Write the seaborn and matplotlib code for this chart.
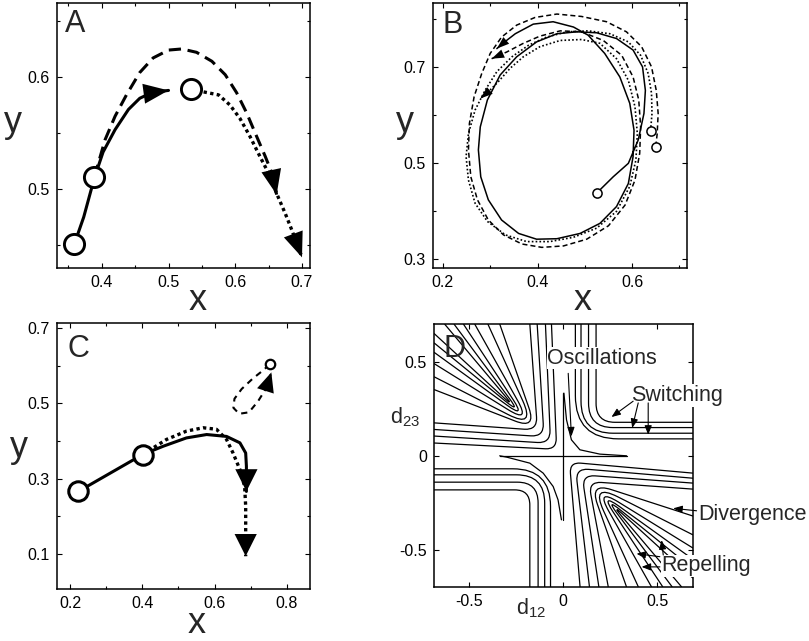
import numpy as np
import matplotlib
matplotlib.use("Agg")
import matplotlib.pyplot as plt
from matplotlib.path import Path
from matplotlib.patches import PathPatch
import seaborn as sns

# ---------------- Panel A : three trajectory pieces ----------------
a_circle_x = [0.359, 0.389, 0.533]
a_circle_y = [0.451, 0.511, 0.589]
a_solid_x = [0.359, 0.373, 0.389, 0.402, 0.420, 0.440, 0.457, 0.475, 0.500]
a_solid_y = [0.451, 0.475, 0.510, 0.533, 0.553, 0.571, 0.581, 0.586, 0.588]
a_dash_x = [0.389, 0.405, 0.420, 0.437, 0.457, 0.477, 0.500, 0.520, 0.542,
            0.565, 0.585, 0.602, 0.617, 0.632, 0.645, 0.655, 0.662]
a_dash_y = [0.511, 0.544, 0.565, 0.584, 0.604, 0.617, 0.624, 0.625, 0.622,
            0.614, 0.602, 0.586, 0.568, 0.547, 0.529, 0.514, 0.495]
a_dot_x = [0.533, 0.575, 0.592, 0.607, 0.622, 0.637, 0.650, 0.662, 0.675, 0.685, 0.700]
a_dot_y = [0.589, 0.584, 0.575, 0.563, 0.547, 0.529, 0.514, 0.496, 0.478, 0.463, 0.439]

# ---------------- Panel B : three loops ----------------
b_circle_x = [0.525, 0.639, 0.650]
b_circle_y = [0.437, 0.567, 0.534]
b_solid_x = [0.525, 0.560, 0.592, 0.613, 0.625, 0.628, 0.622, 0.602, 0.567, 0.525,
             0.483, 0.441, 0.398, 0.356, 0.321, 0.294, 0.279, 0.275, 0.280, 0.296,
             0.324, 0.360, 0.398, 0.441, 0.490, 0.532, 0.567, 0.592, 0.602, 0.604,
             0.595, 0.574, 0.542, 0.507, 0.476, 0.433, 0.391, 0.353, 0.328, 0.314]
b_solid_y = [0.437, 0.471, 0.499, 0.548, 0.603, 0.651, 0.700, 0.735, 0.759, 0.771,
             0.773, 0.769, 0.752, 0.721, 0.683, 0.631, 0.575, 0.527, 0.471, 0.423,
             0.381, 0.353, 0.341, 0.342, 0.353, 0.374, 0.409, 0.457, 0.513, 0.568,
             0.624, 0.679, 0.728, 0.766, 0.783, 0.794, 0.789, 0.769, 0.750, 0.738]
b_dash_x = [0.650, 0.653, 0.655, 0.651, 0.641, 0.620, 0.588, 0.546, 0.493, 0.441,
            0.395, 0.356, 0.324, 0.300, 0.282, 0.266, 0.256, 0.254, 0.259, 0.273,
            0.296, 0.328, 0.367, 0.409, 0.455, 0.504, 0.550, 0.585, 0.606, 0.616,
            0.618, 0.614, 0.602, 0.578, 0.539, 0.493, 0.448, 0.405, 0.370, 0.335, 0.303]
b_dash_y = [0.534, 0.561, 0.603, 0.651, 0.700, 0.742, 0.773, 0.794, 0.805, 0.810,
            0.803, 0.787, 0.762, 0.728, 0.686, 0.638, 0.582, 0.527, 0.471, 0.423,
            0.381, 0.350, 0.331, 0.324, 0.327, 0.341, 0.369, 0.412, 0.464, 0.520,
            0.575, 0.631, 0.679, 0.724, 0.755, 0.773, 0.775, 0.764, 0.749, 0.731, 0.717]
b_dot_x = [0.639, 0.642, 0.641, 0.634, 0.618, 0.592, 0.553, 0.507, 0.462, 0.419,
           0.381, 0.346, 0.314, 0.289, 0.268, 0.254, 0.249, 0.254, 0.268, 0.294,
           0.332, 0.377, 0.426, 0.476, 0.525, 0.567, 0.595, 0.608, 0.611, 0.606,
           0.592, 0.567, 0.532, 0.493, 0.448, 0.405, 0.370, 0.342, 0.317, 0.296, 0.279]
b_dot_y = [0.567, 0.603, 0.645, 0.686, 0.724, 0.752, 0.769, 0.775, 0.773, 0.762,
           0.745, 0.721, 0.690, 0.651, 0.610, 0.561, 0.513, 0.464, 0.416, 0.378,
           0.350, 0.336, 0.336, 0.345, 0.364, 0.399, 0.451, 0.506, 0.561, 0.617,
           0.672, 0.717, 0.749, 0.757, 0.755, 0.742, 0.721, 0.697, 0.669, 0.648, 0.634]

# ---------------- Panel C ----------------
c_circle_x = [0.223, 0.401]
c_circle_y = [0.266, 0.364]
c_small_x = [0.752]
c_small_y = [0.603]
c_solid_x = [0.223, 0.401, 0.458, 0.522, 0.578, 0.633, 0.670, 0.686, 0.688, 0.688]
c_solid_y = [0.266, 0.364, 0.386, 0.408, 0.417, 0.412, 0.395, 0.368, 0.333, 0.266]
c_dot_x = [0.401, 0.467, 0.522, 0.568, 0.605, 0.633, 0.651, 0.670, 0.683, 0.686, 0.686, 0.686]
c_dot_y = [0.364, 0.404, 0.426, 0.435, 0.431, 0.404, 0.368, 0.324, 0.280, 0.227, 0.165, 0.094]
c_dash_x = [0.752, 0.735, 0.705, 0.675, 0.655, 0.652, 0.668, 0.695, 0.720, 0.743, 0.757]
c_dash_y = [0.603, 0.588, 0.565, 0.538, 0.512, 0.488, 0.472, 0.476, 0.505, 0.540, 0.582]

# ---------------- Panel D : curve families in the (d12, d23) plane ----------------
d_xlim = (-0.686, 0.69)
d_ylim = (-0.697, 0.70)
# upper-right "switching" corners
d_ur_top_x = [0.065, 0.095, 0.135, 0.175]
d_ur_right_y = [0.09, 0.12, 0.15, 0.178]
d_ur_bend = [0.23, 0.17, 0.13, 0.10]
# lower-left corners
d_ll_bottom_x = [-0.067, -0.098, -0.133, -0.177]
d_ll_left_y = [-0.069, -0.101, -0.14, -0.181]
d_ll_bend = [0.20, 0.15, 0.11, 0.08]
# upper-left nested bends / hairpins: tip, exit on top edge, exit on left edge
d_ul_tip_x = [-0.05, -0.085, -0.12, -0.155, -0.18, -0.20, -0.22, -0.24, -0.26, -0.28]
d_ul_tip_y = [0.05, 0.085, 0.12, 0.155, 0.18, 0.20, 0.22, 0.24, 0.26, 0.28]
d_ul_top_x = [-0.062, -0.094, -0.138, -0.177, -0.337, -0.40, -0.47, -0.53, -0.58, -0.63]
d_ul_left_y = [0.068, 0.105, 0.14, 0.175, 0.352, 0.42, 0.49, 0.55, 0.60, 0.65]
d_ul_bend = [0.06, 0.07, 0.07, 0.07, 0.12, 0.16, 0.14, 0.12, 0.10, 0.08]
# lower-right nested bends / hairpins: tip, exit on right edge, exit on bottom edge
d_lr_tip_x = [0.05, 0.085, 0.12, 0.155, 0.18, 0.20, 0.22, 0.24, 0.26, 0.28]
d_lr_tip_y = [-0.05, -0.085, -0.12, -0.155, -0.18, -0.20, -0.22, -0.24, -0.26, -0.28]
d_lr_right_y = [-0.092, -0.119, -0.145, -0.177, -0.32, -0.42, -0.49, -0.55, -0.60, -0.65]
d_lr_bottom_x = [0.09, 0.14, 0.19, 0.24, 0.337, 0.40, 0.47, 0.53, 0.58, 0.63]
d_lr_bend = [0.06, 0.07, 0.07, 0.07, 0.12, 0.16, 0.14, 0.12, 0.10, 0.08]
# central cross and its two cusped branches
d_hline_x = [-0.337, 0.337]
d_hline_y = [0.0, 0.0]
d_vline_x = [0.0, 0.0]
d_vline_y = [-0.342, 0.335]
d_cusp_ur_x = [0.004, 0.018, 0.044, 0.089, 0.195, 0.337]
d_cusp_ur_y = [0.333, 0.191, 0.085, 0.032, 0.009, 0.0]
d_cusp_ll_x = [-0.337, -0.30, -0.177, -0.106, -0.053, -0.027, -0.009]
d_cusp_ll_y = [0.0, -0.007, -0.039, -0.092, -0.163, -0.234, -0.34]
# annotations
d_labels = ["Oscillations", "Switching", "Divergence", "Repelling"]
d_label_x = [0.208, 0.607, 0.716, 0.523]
d_label_y = [0.519, 0.319, -0.314, -0.585]
d_label_ha = ["center", "center", "left", "left"]
d_arrow_from = [(0.027, 0.438), (0.372, 0.29), (0.399, 0.281), (0.452, 0.281),
                (0.709, -0.292), (0.532, -0.527), (0.514, -0.536), (0.514, -0.59)]
d_arrow_to = [(0.044, 0.103), (0.257, 0.206), (0.367, 0.148), (0.452, 0.112),
              (0.585, -0.279), (0.523, -0.448), (0.39, -0.52), (0.417, -0.59)]

# ---------------- style ----------------
sns.set_theme(style="ticks")
plt.rcParams["font.family"] = ["Liberation Sans", "DejaVu Sans"]
plt.rcParams["axes.unicode_minus"] = False
plt.rcParams["mathtext.fontset"] = "custom"
plt.rcParams["mathtext.rm"] = "Liberation Sans"
plt.rcParams["mathtext.it"] = "Liberation Sans"
plt.rcParams["axes.edgecolor"] = "black"
plt.rcParams["axes.linewidth"] = 1.1

fig = plt.figure(figsize=(8.09, 6.41), dpi=100)
ax_a = fig.add_axes([0.0705, 0.5819, 0.3127, 0.4134])
ax_b = fig.add_axes([0.5352, 0.5819, 0.3140, 0.4134])
ax_c = fig.add_axes([0.0705, 0.0811, 0.3127, 0.4150])
ax_d = fig.add_axes([0.5365, 0.0842, 0.3201, 0.4103])


def line(ax, xs, ys, lw, ls="-"):
    sns.lineplot(x=xs, y=ys, sort=False, estimator=None, color="black",
                 linewidth=lw, linestyle=ls, ax=ax)


def head(ax, xs, ys, scale, hw=0.4):
    tip = np.array([xs[-1], ys[-1]])
    d = tip - np.array([xs[-2], ys[-2]])
    d = d / np.hypot(*d)
    ax.annotate("", xy=tip, xytext=tip - 0.2 * d,
                arrowprops=dict(arrowstyle=f"-|>,head_length=1.0,head_width={hw}",
                                mutation_scale=scale, color="black", lw=0,
                                shrinkA=0, shrinkB=0), zorder=6)


def circles(ax, xs, ys, size, lw):
    sns.scatterplot(x=xs, y=ys, s=size ** 2, color="white", edgecolor="black",
                    linewidth=lw, zorder=5, ax=ax)


def frame(ax, xlim, ylim, xt, yt, xm=None, ym=None, xl=None, yl=None):
    ax.set_xlim(xlim)
    ax.set_ylim(ylim)
    ax.set_xticks(xt)
    ax.set_yticks(yt)
    if xl is not None:
        ax.set_xticklabels(xl)
        ax.set_yticklabels(yl)
    if xm is not None:
        ax.set_xticks(xm, minor=True)
        ax.set_yticks(ym, minor=True)
    ax.set_xlabel("")
    ax.set_ylabel("")
    ax.tick_params(which="both", direction="in", top=True, right=True,
                   labelsize=11.5, pad=5, width=0.8, colors="black")
    ax.tick_params(which="major", length=3.5)
    ax.tick_params(which="minor", length=2.5)


# ---- A ----
line(ax_a, a_solid_x, a_solid_y, 2.2)
line(ax_a, a_dash_x, a_dash_y, 2.2, (0, (4, 2.2)))
line(ax_a, a_dot_x, a_dot_y, 2.4, (0, (1, 1)))
head(ax_a, a_solid_x, a_solid_y, 18)
head(ax_a, a_dash_x, a_dash_y, 18)
head(ax_a, a_dot_x, a_dot_y, 18)
circles(ax_a, a_circle_x, a_circle_y, 14.5, 2.1)
frame(ax_a, (0.333, 0.712), (0.4295, 0.666), [0.4, 0.5, 0.6, 0.7], [0.5, 0.6],
      [0.35, 0.45, 0.55, 0.65], [0.45, 0.55, 0.65])

# ---- B ----
line(ax_b, b_solid_x, b_solid_y, 1.1)
line(ax_b, b_dash_x, b_dash_y, 1.1, (0, (3.3, 2)))
line(ax_b, b_dot_x, b_dot_y, 1.2, (0, (1, 1.3)))
head(ax_b, b_solid_x, b_solid_y, 9, 0.35)
head(ax_b, b_dash_x, b_dash_y, 9, 0.35)
head(ax_b, b_dot_x, b_dot_y, 9, 0.35)
circles(ax_b, b_circle_x, b_circle_y, 6.6, 1.1)
frame(ax_b, (0.179, 0.716), (0.281, 0.833), [0.2, 0.4, 0.6], [0.3, 0.5, 0.7],
      [0.3, 0.5, 0.7], [0.4, 0.6, 0.8])

# ---- C ----
line(ax_c, c_solid_x, c_solid_y, 2.2)
line(ax_c, c_dot_x, c_dot_y, 2.4, (0, (1, 1)))
line(ax_c, c_dash_x, c_dash_y, 1.5, (0, (3, 2.5)))
head(ax_c, c_solid_x, c_solid_y, 16, 0.5)
head(ax_c, c_dot_x, c_dot_y, 16, 0.5)
head(ax_c, c_dash_x, c_dash_y, 14, 0.45)
circles(ax_c, c_circle_x, c_circle_y, 14, 2.2)
circles(ax_c, c_small_x, c_small_y, 6.8, 1.6)
frame(ax_c, (0.164, 0.864), (0.007, 0.713), [0.2, 0.4, 0.6, 0.8], [0.1, 0.3, 0.5, 0.7],
      [0.3, 0.5, 0.7], [0.2, 0.4, 0.6])


# ---- D ----
def unit(v):
    return v / np.hypot(*v)


def bend_path(start, corner, end, r):
    s, c, e = (np.asarray(p, float) for p in (start, corner, end))
    p1 = c + r * unit(s - c)
    p2 = c + r * unit(e - c)
    return Path([s, p1, c, p2, e],
                [Path.MOVETO, Path.LINETO, Path.CURVE3, Path.CURVE3, Path.LINETO])


def corner_for_tip(start, tip, end, r):
    # control corner so that the rounded bend passes through the read tip
    s, t, e = (np.asarray(p, float) for p in (start, tip, end))
    c = t.copy()
    for _ in range(60):
        c = t - 0.25 * r * (unit(s - c) + unit(e - c))
    return c


paths = []
for a, b, r in zip(d_ur_top_x, d_ur_right_y, d_ur_bend):
    paths.append(bend_path((a, d_ylim[1]), (a, b), (d_xlim[1], b), r))
for a, b, r in zip(d_ll_bottom_x, d_ll_left_y, d_ll_bend):
    paths.append(bend_path((d_xlim[0], b), (a, b), (a, d_ylim[0]), r))
for tx, ty, ex, ey, r in zip(d_ul_tip_x, d_ul_tip_y, d_ul_top_x, d_ul_left_y, d_ul_bend):
    s, e = (ex, d_ylim[1]), (d_xlim[0], ey)
    paths.append(bend_path(s, corner_for_tip(s, (tx, ty), e, r), e, r))
for tx, ty, ey, ex, r in zip(d_lr_tip_x, d_lr_tip_y, d_lr_right_y, d_lr_bottom_x, d_lr_bend):
    s, e = (d_xlim[1], ey), (ex, d_ylim[0])
    paths.append(bend_path(s, corner_for_tip(s, (tx, ty), e, r), e, r))
for p in paths:
    ax_d.add_patch(PathPatch(p, facecolor="none", edgecolor="black", lw=0.9))

line(ax_d, d_hline_x, d_hline_y, 0.9)
line(ax_d, d_vline_x, d_vline_y, 0.9)
line(ax_d, d_cusp_ur_x, d_cusp_ur_y, 0.9)
line(ax_d, d_cusp_ll_x, d_cusp_ll_y, 0.9)

for s, x, y, ha in zip(d_labels, d_label_x, d_label_y, d_label_ha):
    ax_d.text(x, y, s, fontsize=15.5, ha=ha, va="center", zorder=10, clip_on=False,
              bbox=dict(facecolor="white", edgecolor="none", pad=0.6))
for p0, p1 in zip(d_arrow_from, d_arrow_to):
    ax_d.annotate("", xy=p1, xytext=p0, annotation_clip=False,
                  arrowprops=dict(arrowstyle="-|>,head_length=0.45,head_width=0.18",
                                  mutation_scale=12, color="black", lw=0.8,
                                  shrinkA=0, shrinkB=0), zorder=11)
frame(ax_d, d_xlim, d_ylim, [-0.5, 0, 0.5], [-0.5, 0, 0.5],
      xl=["-0.5", "0", "0.5"], yl=["-0.5", "0", "0.5"])

# ---- panel letters and axis labels ----
for ax, letter, lx, ly in [(ax_a, "A", 0.032, 0.891), (ax_b, "B", 0.039, 0.887),
                           (ax_c, "C", 0.04, 0.872), (ax_d, "D", 0.035, 0.875)]:
    ax.text(lx, ly, letter, transform=ax.transAxes, fontsize=22, va="baseline", zorder=12)

for ax, xx, xy, yx, yy in [(ax_a, 0.557, -0.158, -0.174, 0.513),
                           (ax_b, 0.59, -0.158, -0.11, 0.513),
                           (ax_c, 0.553, -0.165, -0.15, 0.496)]:
    ax.text(xx, xy, "x", transform=ax.transAxes, fontsize=26, ha="center", va="baseline")
    ax.text(yx, yy, "y", transform=ax.transAxes, fontsize=26, ha="center", va="baseline")

ax_d.text(0.317, -0.103, "d$_{12}$", transform=ax_d.transAxes, fontsize=15.5,
          ha="left", va="baseline")
ax_d.text(-0.17, 0.624, "d$_{23}$", transform=ax_d.transAxes, fontsize=15.5,
          ha="left", va="baseline")

fig.savefig("out.png", dpi=100)
